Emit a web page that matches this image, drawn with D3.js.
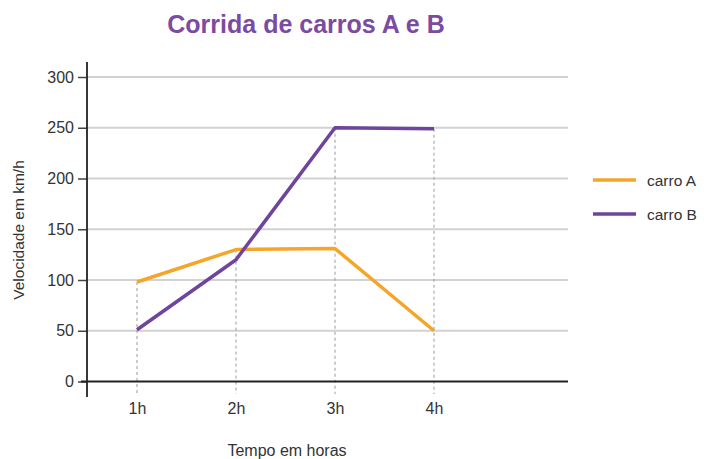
<!DOCTYPE html>
<html><head><meta charset="utf-8">
<script src="https://cdn.jsdelivr.net/npm/d3@7"></script>
<style>body{margin:0;background:#fff;}svg{display:block;font-family:"Liberation Sans",Arial,sans-serif;}</style>
</head><body><svg id="c" width="704" height="459"></svg>
<script>
const hours = [1, 2, 3, 4];
const hourLabels = ["1h", "2h", "3h", "4h"];
const carroA = [98, 130, 131, 50];
const carroB = [51, 120, 250, 249];
const yTicks = [0, 50, 100, 150, 200, 250, 300];
const seriesNames = ["carro A", "carro B"];
const seriesColors = ["#f5a52a", "#6e449c"];

const svg = d3.select("#c");
const x = d3.scaleLinear().domain([1, 4]).range([137, 434]);
const y = d3.scaleLinear().domain([0, 300]).range([381.5, 77]);
const axisX0 = 87, plotRight = 568;
const FF = "Liberation Sans, Arial, sans-serif";

svg.append("text").attr("x", 306).attr("y", 33).attr("text-anchor", "middle")
  .attr("font-size", 25).attr("font-weight", "bold").attr("fill", "#7b4ba3")
  .text("Corrida de carros A e B");

// gridlines
svg.append("g").selectAll("line").data(yTicks.filter(d => d > 0)).join("line")
  .attr("x1", axisX0).attr("x2", plotRight).attr("y1", d => y(d)).attr("y2", d => y(d))
  .attr("stroke", "#d2d2d2").attr("stroke-width", 2);

// dotted verticals
const series = [carroA, carroB];
svg.append("g").selectAll("line").data(hours).join("line")
  .attr("x1", d => x(d)).attr("x2", d => x(d))
  .attr("y1", (d, i) => y(Math.max(carroA[i], carroB[i]))).attr("y2", 394)
  .attr("stroke", "#9a9a9a").attr("stroke-width", 1).attr("stroke-dasharray", "3,3");

// y axis
const yAxis = d3.axisLeft(y).tickValues(yTicks).tickSize(9).tickPadding(4);
const gy = svg.append("g").attr("transform", `translate(${axisX0},0)`).call(yAxis);
gy.select(".domain").remove();
gy.selectAll(".tick line").attr("stroke", "#444").attr("stroke-width", 1.5);
gy.selectAll(".tick text").attr("font-size", 16).attr("fill", "#333").attr("font-family", FF);
svg.append("line").attr("x1", axisX0).attr("x2", axisX0).attr("y1", 62).attr("y2", 397)
  .attr("stroke", "#222").attr("stroke-width", 1.8);

// x axis
const xAxis = d3.axisBottom(x).tickValues(hours).tickFormat((d, i) => hourLabels[i]).tickSize(0).tickPadding(21);
const gx = svg.append("g").attr("transform", `translate(0,${y(0)})`).call(xAxis);
gx.select(".domain").remove();
gx.selectAll(".tick text").attr("font-size", 16).attr("fill", "#333").attr("font-family", FF);
svg.append("line").attr("x1", 81).attr("x2", plotRight).attr("y1", y(0)).attr("y2", y(0))
  .attr("stroke", "#222").attr("stroke-width", 1.8);

// lines
const line = d3.line().x((d, i) => x(hours[i])).y(d => y(d));
series.forEach((s, k) => {
  svg.append("path").datum(s).attr("d", line).attr("fill", "none")
    .attr("stroke", seriesColors[k]).attr("stroke-width", 3.5).attr("stroke-linejoin", "round");
});

// axis labels
svg.append("text").attr("transform", "translate(24,230) rotate(-90)").attr("text-anchor", "middle")
  .attr("font-size", 15.5).attr("fill", "#333").text("Velocidade em km/h");
svg.append("text").attr("x", 287).attr("y", 456).attr("text-anchor", "middle")
  .attr("font-size", 16).attr("fill", "#333").text("Tempo em horas");

// legend
const lg = svg.append("g").selectAll("g").data(seriesNames).join("g")
  .attr("transform", (d, i) => `translate(593,${180 + i * 34})`);
lg.append("line").attr("x1", 0).attr("x2", 43).attr("stroke", (d, i) => seriesColors[i]).attr("stroke-width", 3.5);
lg.append("text").attr("x", 54).attr("y", 5.5).attr("font-size", 15.5).attr("fill", "#333").text(d => d);
</script></body></html>
